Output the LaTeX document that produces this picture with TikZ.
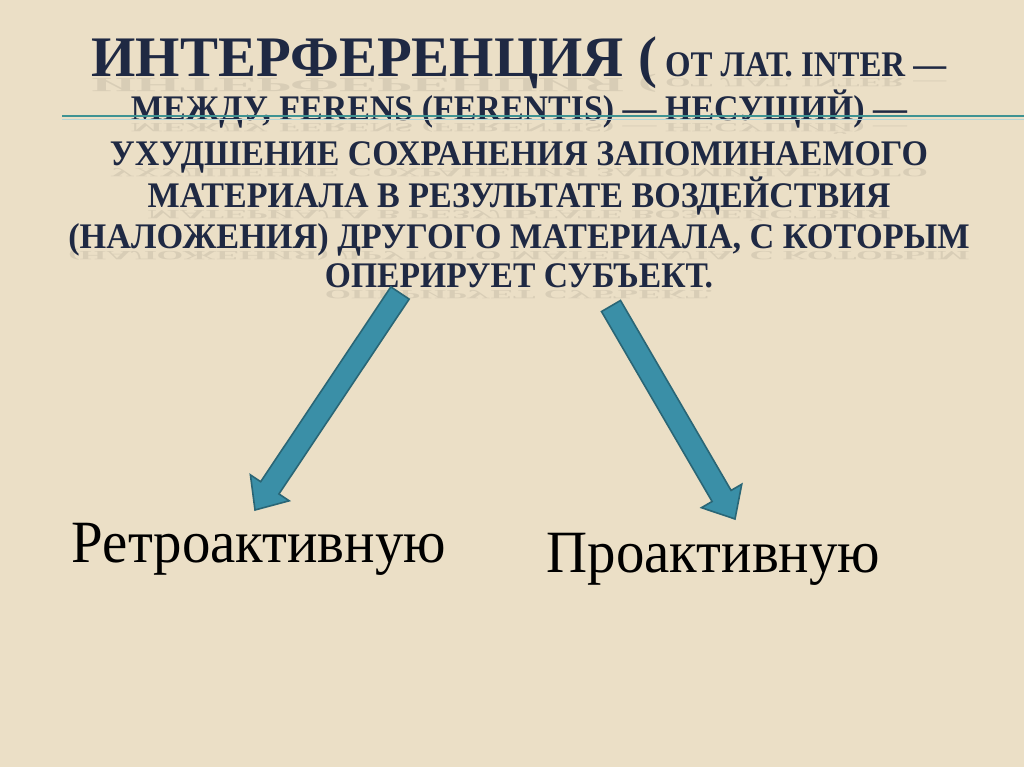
\documentclass[tikz,border=0pt]{standalone}
\usepackage{fontspec}
\setmainfont{Liberation Serif}
\usepackage{graphicx}
\usetikzlibrary{calc}
\definecolor{slidebeige}{HTML}{EBDFC6}
\definecolor{titleblue}{HTML}{1F2943}
\definecolor{ruleteal}{HTML}{3E9393}
\definecolor{rulelight}{HTML}{B4D5D6}
\definecolor{arrowteal}{HTML}{3A8FA7}
\definecolor{arrowedge}{HTML}{2A6676}
\tikzstyle{heading} = [anchor=base, inner sep=0pt, text=titleblue, font=\fontsize{27}{30}\selectfont\bfseries]
\tikzstyle{mirror} = [heading, text=black, opacity=0.08]
\tikzstyle{kind} = [anchor=base, inner sep=0pt, text=black, font=\fontsize{45}{50}\selectfont]
\tikzstyle{blockarrow} = [fill=arrowteal, draw=arrowedge, line width=1.2pt, line join=miter]
\newcommand{\fitw}[2]{\resizebox{#1}{\height}{#2}}
\newcommand{\firstline}{\fitw{424pt}{\fontsize{43}{46}\selectfont ИНТЕРФЕРЕНЦИЯ (}\hspace{6pt}\fitw{211pt}{ОТ ЛАТ. INTER —}}
% block arrow from tail #1 to tip #2
\newcommand{\blockarrow}[2]{%
  \coordinate (hb) at ($(#2)!20pt!(#1)$);
  \draw[blockarrow] ($(#1)!8.25pt!90:(#2)$) -- ($(hb)!8.25pt!90:(#2)$) -- ($(hb)!17.5pt!90:(#2)$)
    -- (#2) -- ($(hb)!17.5pt!-90:(#2)$) -- ($(hb)!8.25pt!-90:(#2)$) -- ($(#1)!8.25pt!-90:(#2)$) -- cycle;}

\begin{document}
\begin{tikzpicture}[x=0.75pt, y=-0.75pt]
\useasboundingbox (0,0) rectangle (1024,767);
\fill[slidebeige] (0,0) rectangle (1024,767);

% title
\node[heading] (line1) at (519,76) {\firstline};
\node[mirror] at (519,79) {\scalebox{1}[-0.35]{\firstline}};
\foreach \yy/\ww/\txt [count=\i from 2] in {
    120/582pt/{МЕЖДУ, FERENS (FERENTIS) — НЕСУЩИЙ) —},
    165/613.5pt/{УХУДШЕНИЕ СОХРАНЕНИЯ ЗАПОМИНАЕМОГО},
    207/557pt/{МАТЕРИАЛА В РЕЗУЛЬТАТЕ ВОЗДЕЙСТВИЯ},
    248/676pt/{(НАЛОЖЕНИЯ) ДРУГОГО МАТЕРИАЛА, С КОТОРЫМ},
    287/291pt/{ОПЕРИРУЕТ СУБЪЕКТ.}}{
  \node[heading] (line\i) at (519,\yy) {\fitw{\ww}{\txt}};
  \node[mirror] at (519,\yy+3) {\scalebox{1}[-0.35]{\fitw{\ww}{\txt}}};
}

% rule across the title
\draw[rulelight, line width=1pt] (62,119.5) -- (1024,119.5);
\draw[ruleteal, line width=2pt] (62,116) -- (1024,116);

% kinds
\node[kind] (retro) at (259,562) {\fitw{280.5pt}{Ретроактивную}};
\node[kind] (pro) at (713.5,572) {\fitw{250pt}{Проактивную}};

\coordinate (retrotail) at (400,293);
\coordinate (retrotip) at (255,510);
\coordinate (protail) at (611,306);
\coordinate (protip) at (735,519);
\blockarrow{retrotail}{retrotip}
\blockarrow{protail}{protip}
\end{tikzpicture}
\end{document}
